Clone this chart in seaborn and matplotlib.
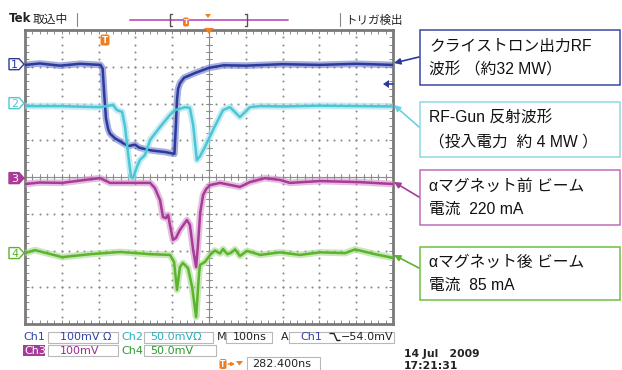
import numpy as np
import pandas as pd
import matplotlib
matplotlib.use("Agg")
import matplotlib.pyplot as plt
import matplotlib.transforms as mtransforms
from matplotlib.patches import Rectangle, Polygon, FancyArrowPatch, FancyBboxPatch
import seaborn as sns

# ---- waveforms: time (ns, 100 ns/div) and screen position (div, 0 = centre) ----
ch1_t = [0, 40, 95, 150, 205, 211, 215, 220, 226, 231, 245, 262, 280, 299, 310, 326,
         345, 380, 406, 410, 413, 416, 421, 432, 462, 500, 540, 600, 700, 800, 900, 1000]
ch1_pos = [3.05, 3.09, 3.03, 3.08, 3.05, 2.95, 2.3, 1.6, 1.3, 1.18, 1.05, 0.95, 0.84, 0.88, 0.80, 0.76,
           0.72, 0.68, 0.63, 1.40, 2.10, 2.40, 2.55, 2.70, 2.83, 2.97, 3.04, 3.03, 3.07, 3.05, 3.08, 3.05]

ch2_t = [0, 95, 204, 239, 250, 264, 272, 280, 288, 293, 304, 312, 326, 340, 367, 394, 408,
         435, 448, 457, 467, 476, 489, 511, 538, 557, 584, 611, 639, 700, 800, 900, 1000]
ch2_pos = [1.93, 1.93, 1.90, 1.96, 1.82, 1.77, 1.36, 0.65, 0.0, -0.03, 0.27, 0.46, 0.60, 1.01, 1.36, 1.69, 1.82,
           1.90, 1.88, 1.41, 0.46, 0.57, 0.82, 1.28, 1.82, 1.90, 1.63, 1.90, 1.93, 1.92, 1.94, 1.93, 1.92]

ch3_t = [0, 40, 101, 163, 204, 231, 285, 340, 353, 367, 375, 383, 389, 394, 402, 410, 421, 440,
         448, 457, 465, 470, 476, 484, 492, 503, 530, 584, 611, 652, 693, 720, 802, 910, 1000]
ch3_pos = [-0.19, -0.15, -0.16, -0.08, -0.03, -0.16, -0.16, -0.16, -0.30, -0.63, -1.09, -1.12, -1.03, -1.31,
           -1.71, -1.66, -1.44, -1.17, -1.30, -1.99, -2.45, -1.85, -0.98, -0.49, -0.33, -0.22, -0.16, -0.27,
           -0.14, -0.03, -0.08, -0.16, -0.11, -0.14, -0.19]

ch4_t = [0, 27, 101, 177, 258, 340, 394, 405, 413, 421, 429, 443, 454, 465, 473, 476, 489, 503, 516,
         530, 538, 550, 560, 571, 584, 603, 639, 693, 747, 802, 870, 897, 951, 1000]
ch4_pos = [-2.07, -1.99, -2.18, -2.10, -2.04, -2.10, -2.12, -2.31, -3.07, -2.45, -2.34, -2.48, -2.99, -3.81,
           -2.61, -2.39, -2.31, -2.12, -2.00, -2.08, -1.96, -2.10, -2.06, -1.97, -2.15, -2.01, -2.12, -2.05,
           -2.12, -2.05, -2.07, -1.97, -2.10, -2.20]

channels = ["1", "2", "3", "4"]
ch_ground = [3.07, 2.01, -0.03, -2.07]          # channel reference markers (div)
trig_level = 3.07 - 0.54                           # Ch1 trigger level, -54.0 mV at 100 mV/div

ch_labels = [["クライストロン出力RF", "波形 （約32 MW）"],
             ["RF-Gun 反射波形", "（投入電力  約 4 MW ）"],
             ["αマグネット前 ビーム", "電流  220 mA"],
             ["αマグネット後 ビーム", "電流  85 mA"]]

core = {"1": "#2c3a9c", "2": "#4cc6d6", "3": "#a83a98", "4": "#5cb42c"}
fuzz = {"1": "#6a78c8", "2": "#9fe0ea", "3": "#d394cb", "4": "#a6d88c"}
text_col = {"1": "#3342a4", "2": "#2aaebe", "3": "#9c2c92", "4": "#2a9a30"}
box_edge = {"1": "#3a48a4", "2": "#8fd9e6", "3": "#c06cb6", "4": "#6cc040"}

df = pd.concat([
    pd.DataFrame({"t": t, "pos": p, "ch": c})
    for t, p, c in [(ch1_t, ch1_pos, "1"), (ch2_t, ch2_pos, "2"),
                    (ch3_t, ch3_pos, "3"), (ch4_t, ch4_pos, "4")]
], ignore_index=True)

sns.set_theme(style="white")
plt.rcParams["font.family"] = ["Liberation Sans", "Noto Sans CJK JP", "DejaVu Sans"]

W, H = 622, 370
fig = plt.figure(figsize=(W / 100, H / 100), dpi=100)
fig.patch.set_facecolor("white")
# pixel coordinates, origin at top-left of the figure
pix = mtransforms.Affine2D().scale(1 / W, -1 / H).translate(0, 1) + fig.transFigure

L, T, R, B = 25, 30, 393, 324
ax = fig.add_axes([L / W, 1 - B / H, (R - L) / W, (B - T) / H])
ax.set_xlim(0, 1000)
ax.set_ylim(-4, 4)

grid_col = "#8c8c8c"
# dotted graticule
gx, gy = [], []
for k in range(1, 10):
    for yy in np.arange(-4, 4.001, 0.2):
        gx.append(k * 100); gy.append(yy)
for k in range(-3, 4):
    for xx in np.arange(0, 1000.1, 20):
        gx.append(xx); gy.append(k)
ax.scatter(gx, gy, s=2.2, color=grid_col, linewidths=0, zorder=1)
# centre axes with minor ticks
ax.axhline(0, color=grid_col, lw=0.8, zorder=1)
ax.axvline(500, color=grid_col, lw=0.8, zorder=1)
for xx in np.arange(0, 1000.1, 20):
    ax.plot([xx, xx], [-0.08, 0.08], color=grid_col, lw=0.7, zorder=1)
for yy in np.arange(-4, 4.001, 0.2):
    ax.plot([491, 509], [yy, yy], color=grid_col, lw=0.7, zorder=1)

# traces: soft envelope, then the core line
pal_f = [fuzz[c] for c in channels]
pal_c = [core[c] for c in channels]
sns.lineplot(data=df, x="t", y="pos", hue="ch", palette=pal_f, linewidth=4.8, alpha=0.6,
             estimator=None, sort=False, legend=False, ax=ax, zorder=3)
sns.lineplot(data=df, x="t", y="pos", hue="ch", palette=pal_c, linewidth=1.8,
             estimator=None, sort=False, legend=False, ax=ax, zorder=4)

ax.set_xlabel("")
ax.set_ylabel("")
ax.set_xticks(np.arange(0, 1000.1, 20))
ax.set_yticks(np.arange(-4, 4.001, 0.2))
ax.tick_params(direction="in", length=3, width=0.7, color=grid_col, top=True, right=True,
               bottom=True, left=True, labelbottom=False, labelleft=False)
for s in ax.spines.values():
    s.set_color("#7a7a7a")
    s.set_linewidth(2.0)

def py(div):
    return T + (4 - div) * (B - T) / 8

# channel reference markers on the left edge
for c, g in zip(channels, ch_ground):
    y = py(g)
    pts = [(9, y - 5.5), (19, y - 5.5), (24, y), (19, y + 5.5), (9, y + 5.5)]
    filled = c == "3"
    fig.add_artist(Polygon(pts, closed=True, transform=pix,
                           facecolor=core[c] if filled else "white",
                           edgecolor=core[c], lw=1.0))
    fig.text(14.5, y + 0.5, c, transform=pix, ha="center", va="center", fontsize=8,
             family="DejaVu Sans", color="white" if filled else core[c])

# trigger level marker (Ch1) on the right side
yt = py(trig_level)
fig.add_artist(Polygon([(383, yt), (389, yt - 4), (389, yt + 4)], closed=True, transform=pix,
                       facecolor=core["1"], edgecolor="none"))
fig.add_artist(plt.Line2D([389, 393], [yt, yt], transform=pix, color=core["1"], lw=1.2))

orange = "#f07d1e"

def t_icon(x, y, w, h, fs):
    fig.add_artist(FancyBboxPatch((x - w / 2, y - h / 2), w, h, boxstyle="round,pad=0,rounding_size=2",
                                  transform=pix, facecolor=orange, edgecolor="none"))
    fig.text(x, y + 0.5, "T", transform=pix, ha="center", va="center", fontsize=fs,
             family="DejaVu Sans", weight="bold", color="white")

# trigger point markers
t_icon(105, 40, 9, 11, 6.5)
fig.add_artist(Polygon([(204, 28), (214, 28), (209, 34)], closed=True, transform=pix,
                       facecolor=orange, edgecolor="none"))

# ---- header bar ----
fig.text(9, 19, "Tek", transform=pix, ha="left", va="center", fontsize=8.5,
         family="DejaVu Sans", weight="bold", color="#222222")
fig.text(33, 19, "取込中", transform=pix, ha="left", va="center", fontsize=8.5,
         family="Noto Sans CJK JP", color="#222222")
for xs in (77, 340):
    fig.add_artist(plt.Line2D([xs, xs], [13, 26], transform=pix, color="#888888", lw=0.8))
fig.add_artist(plt.Line2D([130, 288], [20, 20], transform=pix, color="#c466c4", lw=1.4))
for xb, d in ((170, 1), (247, -1)):
    fig.add_artist(plt.Line2D([xb + 2 * d, xb, xb, xb + 2 * d], [14, 14, 26, 26], transform=pix,
                              color="#555555", lw=1.0))
t_icon(186, 22, 6, 9, 5)
fig.add_artist(Polygon([(205, 14), (211, 14), (208, 18)], closed=True, transform=pix,
                       facecolor=orange, edgecolor="none"))
fig.text(345, 20, "トリガ検出", transform=pix, ha="left", va="center", fontsize=8.3,
         family="Noto Sans CJK JP", color="#222222")

# ---- callout boxes ----
box_y = [(30, 85), (102, 157), (170, 225), (247, 300)]
arrows = [((419, 57), (394, 63)), ((419, 127), (394, 105)),
          ((419, 197), (394, 182)), ((419, 268), (394, 255))]
for c, (y0, y1), lines, (tail, head) in zip(channels, box_y, ch_labels, arrows):
    fig.add_artist(Rectangle((420, y0), 200, y1 - y0, transform=pix, facecolor="white",
                             edgecolor=box_edge[c], lw=1.1))
    ym = (y0 + y1) / 2
    fig.text(429, ym - 11, lines[0], transform=pix, ha="left", va="center", fontsize=11.3,
             color="#111111")
    fig.text(429, ym + 12, lines[1], transform=pix, ha="left", va="center", fontsize=11.3,
             color="#111111")
    fig.add_artist(FancyArrowPatch(tail, head, transform=pix, arrowstyle="-|>", mutation_scale=9,
                                   color=core[c] if c != "2" else "#6fd0de", lw=1.2,
                                   shrinkA=0, shrinkB=0))

# ---- status readout ----
mono = "DejaVu Sans"
def status_box(x0, x1, y0, y1):
    fig.add_artist(Rectangle((x0, y0), x1 - x0, y1 - y0, transform=pix, facecolor="white",
                             edgecolor="#b8b8b8", lw=0.8))

status_box(48, 118, 332, 343)
status_box(144, 213, 332, 343)
status_box(226, 272, 332, 343)
status_box(289, 394, 332, 343)
status_box(48, 118, 345, 356)
status_box(144, 216, 345, 356)
status_box(247, 320, 357, 370)

r1, r2, r3 = 337.5, 350.5, 364
fig.text(23, r1, "Ch1", transform=pix, ha="left", va="center", fontsize=8, family=mono, color=text_col["1"])
fig.text(60, r1, "100mV Ω", transform=pix, ha="left", va="center", fontsize=8, family=mono, color=text_col["1"])
fig.text(121, r1, "Ch2", transform=pix, ha="left", va="center", fontsize=8, family=mono, color=text_col["2"])
fig.text(150, r1, "50.0mVΩ", transform=pix, ha="left", va="center", fontsize=8, family=mono, color=text_col["2"])
fig.text(217, r1, "M", transform=pix, ha="left", va="center", fontsize=8, family=mono, color="#222222")
fig.text(233, r1, "100ns", transform=pix, ha="left", va="center", fontsize=8, family=mono, color="#222222")
fig.text(281, r1, "A", transform=pix, ha="left", va="center", fontsize=8, family=mono, color="#222222")
fig.text(300, r1, "Ch1", transform=pix, ha="left", va="center", fontsize=8, family=mono, color=text_col["1"])
# falling-edge slope symbol
fig.add_artist(plt.Line2D([330, 334, 337, 340], [333.5, 333.5, 340.5, 340.5], transform=pix,
                          color="#222222", lw=1.0))
fig.text(341, r1, "−54.0mV", transform=pix, ha="left", va="center", fontsize=8, family=mono, color="#222222")

fig.add_artist(Rectangle((23, 345), 22, 11, transform=pix, facecolor=core["3"], edgecolor="none"))
fig.text(24, r2, "Ch3", transform=pix, ha="left", va="center", fontsize=8, family=mono, color="white")
fig.text(60, r2, "100mV", transform=pix, ha="left", va="center", fontsize=8, family=mono, color=text_col["3"])
fig.text(121, r2, "Ch4", transform=pix, ha="left", va="center", fontsize=8, family=mono, color=text_col["4"])
fig.text(150, r2, "50.0mV", transform=pix, ha="left", va="center", fontsize=8, family=mono, color=text_col["4"])

t_icon(223, r3, 7, 10, 5.5)
fig.add_artist(FancyArrowPatch((228, r3), (235, r3), transform=pix, arrowstyle="-|>",
                               mutation_scale=5, color=orange, lw=1.0, shrinkA=0, shrinkB=0))
fig.add_artist(Polygon([(236, r3 - 3), (243, r3 - 3), (239.5, r3 + 1.5)], closed=True, transform=pix,
                       facecolor=orange, edgecolor="none"))
fig.text(252, r3, "282.400ns", transform=pix, ha="left", va="center", fontsize=8, family=mono, color="#222222")

fig.text(404, 354, "14 Jul   2009", transform=pix, ha="left", va="center", fontsize=7.8,
         family=mono, weight="bold", color="#222222")
fig.text(404, 366, "17:21:31", transform=pix, ha="left", va="center", fontsize=7.8,
         family=mono, weight="bold", color="#222222")

fig.savefig("out.png", dpi=100)
